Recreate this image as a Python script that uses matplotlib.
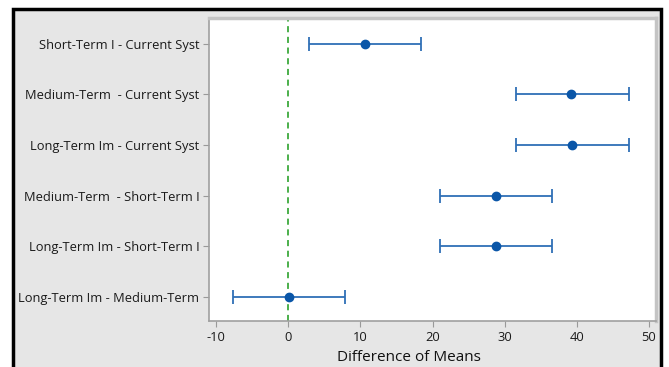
import numpy as np
import matplotlib.pyplot as plt
from matplotlib.patches import Rectangle

# Comparaciones (de arriba abajo) y sus diferencias de medias con intervalo
comparaciones = [
    "Short-Term I - Current Syst",
    "Medium-Term  - Current Syst",
    "Long-Term Im - Current Syst",
    "Medium-Term  - Short-Term I",
    "Long-Term Im - Short-Term I",
    "Long-Term Im - Medium-Term",
]
diferencias = [10.65, 39.2, 39.4, 28.8, 28.8, 0.1]
limite_inf = [2.85, 31.6, 31.6, 21.1, 21.1, -7.7]
limite_sup = [18.45, 47.2, 47.2, 36.6, 36.6, 7.9]
ticks_x = [-10, 0, 10, 20, 30, 40, 50]

plt.rcParams['font.family'] = ['Open Sans', 'DejaVu Sans']

fig = plt.figure(figsize=(6.69, 3.67), dpi=100)
fig.patch.set_facecolor('white')

# marco gris con borde negro (captura de pantalla)
marco = Rectangle((13 / 669, -0.05), (661 - 13) / 669, 1.05 - 9 / 367,
                  transform=fig.transFigure, facecolor='#e6e6e6',
                  edgecolor='black', linewidth=2.5, zorder=-5)
fig.patches.append(marco)

ax = fig.add_axes([209 / 669, 1 - 321 / 367, (656 - 209) / 669, (321 - 18) / 367])
ax.set_zorder(2)
ax.set_facecolor('white')

y = np.arange(len(comparaciones))
dif = np.array(diferencias)
err = [dif - np.array(limite_inf), np.array(limite_sup) - dif]

ax.axvline(0, color='#1a9a1a', linestyle=(0, (4, 3)), linewidth=1.1, zorder=1)
ax.errorbar(dif, y, xerr=err, fmt='o', color='#0a56a8', ecolor='#2f6fb6',
            elinewidth=1.3, capsize=5, capthick=1.3, markersize=6, zorder=3)

ax.set_xlim(-11.0, 51.0)
ax.set_ylim(5.48, -0.51)
ax.set_yticks(y)
ax.set_yticklabels(comparaciones, fontsize=9.3, color='#1a1a1a')
ax.set_xticks(ticks_x)
ax.set_xticklabels([str(t) for t in ticks_x], fontsize=9.3, color='#1a1a1a')
ax.tick_params(axis='both', length=4, color='#999999', width=0.8, pad=3)

for lado in ['left', 'bottom']:
    ax.spines[lado].set_color('#a0a0a0')
    ax.spines[lado].set_linewidth(1.2)
for lado in ['top', 'right']:
    ax.spines[lado].set_color('#c4c4c4')
    ax.spines[lado].set_linewidth(2.5)

ax.set_xlabel('Difference of Means', fontsize=11, color='#111111')
ax.xaxis.set_label_coords((409 - 209) / (656 - 209), -0.095)

fig.savefig('out.png', dpi=100)
